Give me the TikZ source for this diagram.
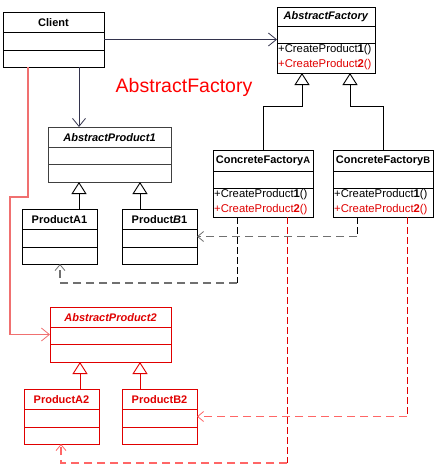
\documentclass[tikz,border=0pt]{standalone}
\usepackage{fontspec}
\setmainfont{Liberation Sans}
\usetikzlibrary{arrows.meta,calc}
\definecolor{umlred}{HTML}{E00000}
\definecolor{lightred}{HTML}{F07070}
\definecolor{dashred}{HTML}{FF6666}
\definecolor{navyline}{HTML}{33334D}
\definecolor{dashgray}{HTML}{707070}
\newcommand\titlefont{\fontsize{11}{12}\selectfont\bfseries}
\newcommand\methfont{\fontsize{11.3}{13}\selectfont}
\newcommand\umlcls[9]{%
  \node[draw=#8, line width=1pt, minimum width={#4-#2}, minimum height={#5-#3},
        anchor=north west, inner sep=0pt, outer sep=0pt, fill=white] (#1) at (#2,#3) {};
  \draw[#8, line width=1pt] (#2,#6) -- (#4,#6) (#2,#7) -- (#4,#7);
  \node[text=#8, font=\titlefont, inner sep=0pt] (#1-t) at ({(#2+#4)/2},{(#3+#6)/2+0.5}) {#9};
}
\tikzset{
  assoc/.style={line width=0.9pt, -{Straight Barb[length=8pt,width=13pt,line width=0.8pt]}},
  inh/.style={line width=1pt, -{Triangle[open,length=12pt,width=15pt,line width=0.9pt,fill=white]}},
  dep/.style={-{Straight Barb[length=6pt,width=10pt,line width=0.8pt]}},
  vdash/.style={line width=0.9pt, dash pattern=on 7pt off 3pt},
  hdash/.style={line width=1.5pt, dash pattern=on 8pt off 5pt},
  meth/.style={font=\methfont, anchor=west, inner sep=0pt},
}
\begin{document}
\begin{tikzpicture}[x=1pt,y=-1pt]
\useasboundingbox[fill=white] (0,0) rectangle (437,471);
% classes
\umlcls{client}{3}{12}{104}{67}{32}{50}{black}{Client}
\umlcls{af}{277}{7}{375}{73}{26}{43}{black}{\textit{AbstractFactory}}
\umlcls{cfa}{213}{150}{313}{217}{171}{188}{black}{ConcreteFactory{\fontsize{9.5}{11}\selectfont A}}
\umlcls{cfb}{333}{150}{433}{217}{171}{188}{black}{ConcreteFactory{\fontsize{9.5}{11}\selectfont B}}
\umlcls{ap1}{48}{127}{171}{182}{147}{164}{black!75}{\textcolor{black}{\textit{AbstractProduct1}}}
\umlcls{pa1}{22}{209}{97}{264}{229}{247}{black}{ProductA1}
\umlcls{pb1}{122}{209}{197}{264}{229}{247}{black}{Product\textit{B}1}
\umlcls{ap2}{50}{307}{171}{362}{327}{344}{umlred}{\textit{AbstractProduct2}}
\umlcls{pa2}{24}{389}{99}{444}{409}{427}{umlred}{ProductA2}
\umlcls{pb2}{122}{389}{197}{444}{409}{427}{umlred}{ProductB2}
% methods
\node[meth] (afm1) at (278,50) {+CreateProduct\textbf{1}()};
\node[meth, text=umlred] (afm2) at (278,64.5) {+CreateProduct\textbf{2}()};
\node[meth] (cfam1) at (214,195) {+CreateProduct\textbf{1}()};
\node[meth, text=umlred] (cfam2) at (214,209.5) {+CreateProduct\textbf{2}()};
\node[meth] (cfbm1) at (334,195) {+CreateProduct\textbf{1}()};
\node[meth, text=umlred] (cfbm2) at (334,209.5) {+CreateProduct\textbf{2}()};
% big label
\node[text=red, font=\fontsize{19.5}{22}\selectfont, inner sep=0pt] (lbl) at (184,87) {AbstractFactory};
% associations
\draw[assoc, navyline] (client.east) -- (client.east -| af.west);
\coordinate (c1) at ($(client.south west)+(76,0)$);
\draw[assoc, navyline] (c1) -- (c1 |- ap1.north);
\coordinate (c2) at ($(client.south west)+(25,0)$);
\draw[assoc, lightred, line width=1.3pt] (c2) -- ++(0,130) -- ++(-18,0) |- (ap2.west);
% inheritance
\coordinate (t1) at ($(af.south west)+(25,0)$);
\coordinate (t2) at ($(af.south west)+(73,0)$);
\draw[inh] (cfa.north) |- ($(t1)+(0,33)$) -- (t1);
\draw[inh] (cfb.north) |- ($(t2)+(0,33)$) -- (t2);
\coordinate (t3) at ($(ap1.south west)+(31,0)$);
\coordinate (t4) at ($(ap1.south west)+(92,0)$);
\draw[inh] (t3 |- pa1.north) -- (t3);
\draw[inh] (t4 |- pb1.north) -- (t4);
\coordinate (t5) at ($(ap2.south west)+(30,0)$);
\coordinate (t6) at ($(ap2.south west)+(90,0)$);
\draw[inh, umlred] (t5 |- pa2.north) -- (t5);
\draw[inh, umlred] (t6 |- pb2.north) -- (t6);
% dependencies (product 1)
\coordinate (da) at ($(cfa.south west)+(24,0)$);
\coordinate (db) at ($(cfb.south west)+(24,0)$);
\coordinate (pa1t) at ($(pa1.south west)+(38,0)$);
\draw[vdash, black] (da) -- ++(0,66) coordinate (da2);
\draw[hdash, dashgray, dep] (da2) -| (pa1t);
\draw[vdash, black] (db) -- (db |- pb1.east) coordinate (db2);
\draw[hdash, dashgray, dep] (db2) -- (pb1.east);
% dependencies (product 2)
\coordinate (ra) at ($(cfa.south west)+(74,0)$);
\coordinate (rb) at ($(cfb.south west)+(74,0)$);
\coordinate (pa2t) at ($(pa2.south west)+(37,0)$);
\draw[vdash, umlred] (ra) -- ++(0,246) coordinate (ra2);
\draw[hdash, dashred, dep] (ra2) -| (pa2t);
\draw[vdash, umlred] (rb) -- (rb |- pb2.east) coordinate (rb2);
\draw[hdash, dashred, dep] (rb2) -- (pb2.east);
\end{tikzpicture}
\end{document}
